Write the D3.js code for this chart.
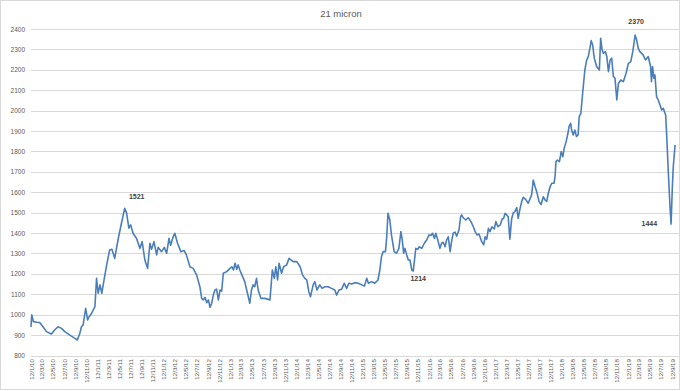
<!DOCTYPE html>
<html><head><meta charset="utf-8">
<script src="https://cdn.jsdelivr.net/npm/d3@7"></script>
<style>
html,body{margin:0;padding:0;background:#fff;}
svg{display:block;font-family:"Liberation Sans","DejaVu Sans",Arial,sans-serif;}
</style></head>
<body>
<svg id="chart" width="680" height="391"></svg>
<script>
const title = "21 micron";
const dates = [
"2010-01-12","2010-01-16","2010-01-25","2010-02-13","2010-03-02","2010-03-19","2010-04-07","2010-05-04","2010-05-22","2010-06-10",
"2010-06-29","2010-07-17","2010-08-14","2010-09-11","2010-09-24","2010-10-08","2010-10-17","2010-10-26","2010-11-09","2010-11-20",
"2010-11-28","2010-12-12","2010-12-30","2011-01-08","2011-01-17","2011-01-27","2011-02-06","2011-02-15","2011-03-03","2011-03-21",
"2011-04-03","2011-04-18","2011-05-06","2011-05-25","2011-06-12","2011-06-22","2011-07-05","2011-07-15","2011-07-28","2011-08-16",
"2011-09-04","2011-09-16","2011-10-01","2011-10-16","2011-10-29","2011-11-07","2011-11-20","2011-12-05","2011-12-13","2012-01-01",
"2012-01-16","2012-01-29","2012-02-11","2012-02-20","2012-03-05","2012-03-14","2012-03-29","2012-04-16","2012-05-04",
"2012-05-17","2012-06-05","2012-06-23","2012-07-12","2012-07-30","2012-08-09","2012-08-18","2012-08-27","2012-09-06","2012-09-15",
"2012-09-24","2012-10-03","2012-10-12","2012-10-21","2012-10-30","2012-11-09","2012-11-18","2012-11-27","2012-12-06","2012-12-25",
"2013-01-12","2013-01-22","2013-01-31","2013-02-09","2013-02-18","2013-02-26","2013-03-07","2013-03-16","2013-04-03","2013-04-18",
"2013-05-01","2013-05-10","2013-05-19","2013-05-28","2013-06-07","2013-06-16","2013-07-01","2013-07-23","2013-08-11","2013-08-20",
"2013-09-02","2013-09-13","2013-09-21","2013-10-01","2013-10-09","2013-10-23","2013-11-03","2013-11-20","2013-12-03","2013-12-14",
"2013-12-26","2014-01-15","2014-02-02","2014-02-15","2014-02-28","2014-03-11","2014-03-22","2014-03-31","2014-04-15","2014-04-24",
"2014-05-06","2014-05-21","2014-06-03","2014-06-18","2014-07-06","2014-07-25","2014-08-12","2014-08-22","2014-09-04","2014-09-19",
"2014-10-03","2014-10-16","2014-10-29","2014-11-13","2014-12-01","2014-12-19","2015-01-08","2015-01-22","2015-02-04",
"2015-02-13","2015-03-03","2015-03-20","2015-04-07","2015-04-17","2015-04-26","2015-05-05","2015-05-18","2015-05-25","2015-06-01",
"2015-06-11","2015-06-20","2015-07-05","2015-07-18","2015-07-31","2015-08-11","2015-08-18","2015-08-26","2015-09-02","2015-09-12",
"2015-09-21","2015-09-30","2015-10-10","2015-10-18","2015-10-24","2015-11-01","2015-11-12","2015-11-19","2015-12-04","2015-12-18",
"2015-12-31","2016-01-13","2016-01-23","2016-02-01","2016-02-12","2016-02-19","2016-03-01","2016-03-13","2016-03-22","2016-03-31",
"2016-04-10","2016-04-19","2016-04-28","2016-05-08","2016-05-16","2016-05-25","2016-06-04","2016-06-13","2016-06-26","2016-07-05",
"2016-07-11","2016-07-19","2016-08-02","2016-08-16","2016-08-31","2016-09-13","2016-09-23","2016-10-03","2016-10-14","2016-10-29",
"2016-11-09","2016-11-17","2016-11-26","2016-12-05","2016-12-14","2016-12-24","2017-01-06","2017-01-15","2017-01-26","2017-02-08",
"2017-02-19","2017-02-26","2017-03-07","2017-03-15","2017-03-24","2017-04-02","2017-04-12","2017-04-21","2017-04-30","2017-05-10",
"2017-05-18","2017-05-27","2017-06-06","2017-06-15","2017-06-28","2017-07-12","2017-07-31","2017-08-09","2017-08-19","2017-08-28",
"2017-09-10","2017-09-21","2017-10-03","2017-10-13",
"2017-10-22","2017-10-31","2017-11-10","2017-11-19","2017-12-01","2017-12-07","2017-12-12","2017-12-20","2017-12-31","2018-01-10",
"2018-01-19","2018-01-26","2018-02-06","2018-02-16","2018-02-22","2018-03-03","2018-03-08","2018-03-17","2018-03-26","2018-04-04",
"2018-04-13","2018-04-19","2018-04-28","2018-05-08","2018-05-20","2018-05-30","2018-06-08","2018-06-17","2018-06-24","2018-07-02",
"2018-07-11","2018-07-24","2018-08-08","2018-08-15","2018-08-23","2018-08-30","2018-09-10","2018-09-18","2018-09-27","2018-10-06",
"2018-10-15","2018-10-24","2018-11-02","2018-11-12","2018-11-21","2018-12-04","2018-12-18","2019-01-02","2019-01-15","2019-01-28",
"2019-02-08","2019-02-21","2019-03-01","2019-03-10","2019-03-19","2019-04-06","2019-04-19","2019-05-04","2019-05-17","2019-05-22",
"2019-05-28","2019-06-04","2019-06-10","2019-06-19","2019-06-28","2019-07-08","2019-07-17","2019-07-26","2019-08-08","2019-08-14",
"2019-08-23","2019-09-01","2019-09-07","2019-09-14","2019-09-19","2019-09-29"
];
const prices = [
940,1000,966,963,961,941,917,905,925,941,
933,917,900,884,876,909,941,950,1031,974,
990,1007,1039,1178,1105,1146,1105,1154,1235,1317,
1320,1276,1366,1448,1521,1500,1424,1440,1399,1374,
1325,1358,1268,1227,1350,1320,1358,1293,1330,1309,
1330,1301,1374,1340,1382,1399,1350,1309,1315,
1293,1235,1227,1195,1137,1080,1072,1085,1059,1072,
1036,1056,1096,1121,1125,1072,1121,1115,1203,1211,
1227,1235,1219,1252,1222,1244,1219,1200,1162,1105,
1056,1121,1146,1137,1178,1121,1080,1080,1075,1072,
1219,1178,1235,1170,1252,1203,1235,1244,1276,1268,
1260,1260,1235,1195,1178,1170,1113,1088,1146,1162,
1121,1146,1129,1137,1137,1129,1121,1096,1121,1125,
1154,1129,1154,1150,1157,1154,1146,1140,1178,
1154,1162,1154,1170,1219,1284,1309,1309,1382,1497,
1464,1391,1309,1301,1325,1407,1370,1301,1325,1293,
1268,1268,1219,1214,1260,1325,1320,1333,1325,1350,
1366,1391,1388,1399,1374,1399,1366,1325,1350,1355,
1333,1366,1382,1309,1358,1399,1405,1385,1415,1480,
1489,1475,1464,1475,1456,1431,1407,1391,1395,1358,
1342,1382,1370,1423,1407,1431,1420,1456,1431,1440,
1470,1470,1497,1490,1480,1370,1470,1500,1505,1525,
1472,1515,1554,1575,1565,1546,1587,1660,1627,1603,
1554,1540,1578,1562,
1555,1595,1627,1644,1644,1677,1750,1758,1750,1799,
1774,1815,1848,1889,1922,1938,1905,1881,1905,1873,
1881,1971,1987,2085,2199,2248,2265,2306,2343,2322,
2257,2216,2199,2355,2298,2281,2289,2265,2191,2248,
2257,2167,2159,2052,2134,2150,2142,2183,2232,2240,
2289,2370,2347,2306,2289,2273,2248,2265,2216,2142,
2216,2159,2175,2069,2052,2028,2003,2011,1979,1873,
1693,1529,1444,1627,1725,1832
];
const xTickLabels = [
"12/1/10","12/3/10","12/5/10","12/7/10","12/9/10","12/11/10",
"12/1/11","12/3/11","12/5/11","12/7/11","12/9/11","12/11/11",
"12/1/12","12/3/12","12/5/12","12/7/12","12/9/12","12/11/12",
"12/1/13","12/3/13","12/5/13","12/7/13","12/9/13","12/11/13",
"12/1/14","12/3/14","12/5/14","12/7/14","12/9/14","12/11/14",
"12/1/15","12/3/15","12/5/15","12/7/15","12/9/15","12/11/15",
"12/1/16","12/3/16","12/5/16","12/7/16","12/9/16","12/11/16",
"12/1/17","12/3/17","12/5/17","12/7/17","12/9/17","12/11/17",
"12/1/18","12/3/18","12/5/18","12/7/18","12/9/18","12/11/18",
"12/1/19","12/3/19","12/5/19","12/7/19","12/9/19"
];
const yTicks = [800,900,1000,1100,1200,1300,1400,1500,1600,1700,1800,1900,2000,2100,2200,2300,2400];
const annotDates = ["2011-06-12","2015-10-18","2019-02-21","2019-09-07"];
const annotValues = [1521,1214,2370,1444];

const parseISO = d3.timeParse("%Y-%m-%d");
const parseTick = d3.timeParse("%d/%m/%y");
const data = dates.map((d,i)=>({date:parseISO(d), value:prices[i]}));
const tickDates = xTickLabels.map(parseTick);

const svg = d3.select("#chart");
svg.append("rect").attr("x",0.5).attr("y",0.5).attr("width",679).attr("height",389)
  .attr("fill","#fff").attr("stroke","#d9d9d9");

const x = d3.scaleTime().domain([tickDates[0], tickDates[tickDates.length-1]]).range([31,672]);
const y = d3.scaleLinear().domain([800,2400]).range([355.5,29]);
const gridRight = 679;

// gridlines
svg.append("g").selectAll("line").data(yTicks).join("line")
  .attr("x1",31).attr("x2",gridRight)
  .attr("y1",d=>Math.round(y(d))+0.5).attr("y2",d=>Math.round(y(d))+0.5)
  .attr("stroke","#d9d9d9").attr("stroke-width",1);

// y axis labels
const yAxis = d3.axisLeft(y).tickValues(yTicks).tickFormat(d3.format("d")).tickSize(0).tickPadding(0);
const gy = svg.append("g").attr("transform","translate(25,0)").call(yAxis);
gy.select(".domain").remove();
gy.selectAll("text").attr("font-size","6.5px").attr("fill","#595959").attr("font-family","Liberation Sans, Arial, sans-serif");

// x axis labels
const xAxis = d3.axisBottom(x).tickValues(tickDates).tickFormat((d,i)=>xTickLabels[i]).tickSize(0).tickPadding(0);
const gx = svg.append("g").attr("transform","translate(0,359)").call(xAxis);
gx.select(".domain").remove();
gx.selectAll("text")
  .attr("font-size","6.2px").attr("fill","#595959").attr("font-family","Liberation Sans, Arial, sans-serif")
  .attr("text-anchor","end").attr("transform","rotate(-90)")
  .attr("x",0).attr("y",0).attr("dx",0).attr("dy","0.35em");

// line
const line = d3.line().x(d=>x(d.date)).y(d=>y(d.value));
svg.append("path").datum(data).attr("d",line)
  .attr("fill","none").attr("stroke","#4a7ebb").attr("stroke-width",1.6)
  .attr("stroke-linejoin","round");

// title
svg.append("text").attr("x",341).attr("y",16.5).attr("text-anchor","middle")
  .attr("font-size","9.5px").attr("fill","#595959").text(title);

// annotations
const annotOffsets = [[12,-9,"middle"],[5,10,"middle"],[1,-11,"middle"],[-14,2,"end"]];
annotDates.forEach((d,i)=>{
  const o = annotOffsets[i];
  svg.append("text")
    .attr("x", x(parseISO(d))+o[0]).attr("y", y(annotValues[i])+o[1])
    .attr("text-anchor",o[2]).attr("font-size","7px").attr("font-weight","bold")
    .attr("fill","#404040").text(annotValues[i]);
});
</script>
</body></html>
